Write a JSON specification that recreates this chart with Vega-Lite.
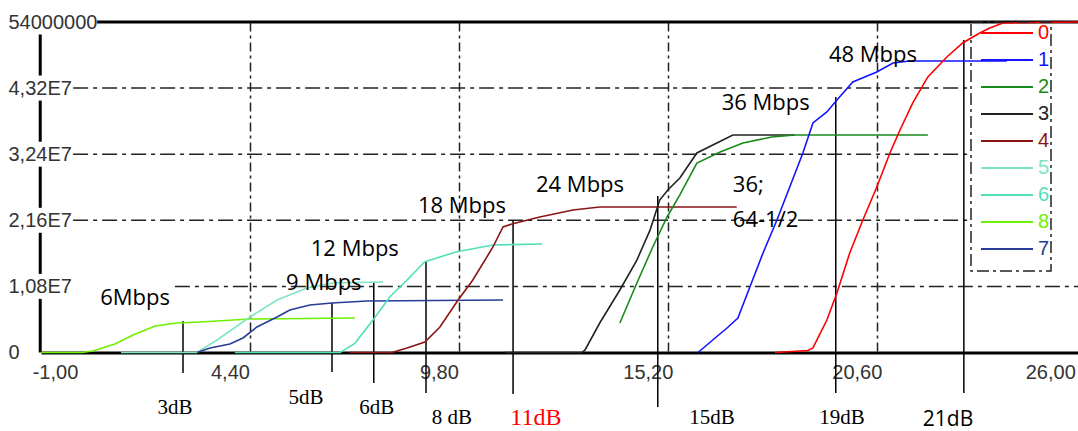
{
  "$schema": "https://vega.github.io/schema/vega-lite/v6.json",
  "width": 1037,
  "height": 330.5,
  "autosize": {"type": "none"},
  "padding": {"left": 41, "top": 22, "right": 0, "bottom": 78.5},
  "background": "white",
  "config": {
    "view": {"stroke": null},
    "legend": {"strokeDash": [12, 4, 3, 4], "strokeWidth": 1.5}
  },
  "datasets": {
    "grid": [
      {"y": 10800000, "x1": 2.46, "x2": 25.8},
      {"y": 21600000, "x1": -0.17, "x2": 23.03},
      {"y": 32400000, "x1": -0.17, "x2": 23.03},
      {"y": 43200000, "x1": -0.17, "x2": 23.03}
    ],
    "leftaxis": [
      {"x": -1.02, "y1": 51960000, "y2": 45250000},
      {"x": -1.02, "y1": 41160000, "y2": 34440000},
      {"x": -1.02, "y1": 30360000, "y2": 23640000},
      {"x": -1.02, "y1": 19560000, "y2": 12840000},
      {"x": -1.02, "y1": 8760000, "y2": 0}
    ],
    "topline": [{"y": 54000000, "x1": 0.45, "x2": 25.8}],
    "marks": [
      {"x": 2.67, "top": 5150000, "bot": -3350000},
      {"x": 6.52, "top": 8090000, "bot": -3190000},
      {"x": 7.60, "top": 11520000, "bot": -4980000},
      {"x": 8.95, "top": 14950000, "bot": -6620000},
      {"x": 11.20, "top": 21650000, "bot": -6780000},
      {"x": 14.94, "top": 25570000, "bot": -8900000},
      {"x": 19.54, "top": 41750000, "bot": -6620000},
      {"x": 22.85, "top": 51060000, "bot": -6620000}
    ],
    "curves": [
      {"s": "8", "x": -1, "y": 0}, {"s": "8", "x": 0.06, "y": 0}, {"s": "8", "x": 0.34, "y": 250000}, {"s": "8", "x": 0.91, "y": 1390000}, {"s": "8", "x": 1.38, "y": 2860000}, {"s": "8", "x": 1.95, "y": 4330000}, {"s": "8", "x": 2.51, "y": 4820000}, {"s": "8", "x": 3.11, "y": 4980000}, {"s": "8", "x": 4.40, "y": 5470000}, {"s": "8", "x": 7.11, "y": 5640000},
      {"s": "5", "x": 1.07, "y": 0}, {"s": "5", "x": 3.03, "y": 0}, {"s": "5", "x": 3.55, "y": 2040000}, {"s": "5", "x": 4.40, "y": 5800000}, {"s": "5", "x": 5.10, "y": 8580000}, {"s": "5", "x": 5.87, "y": 10540000}, {"s": "5", "x": 6.55, "y": 11360000}, {"s": "5", "x": 7.84, "y": 11520000},
      {"s": "7", "x": 3.03, "y": 0}, {"s": "7", "x": 3.37, "y": 740000}, {"s": "7", "x": 3.88, "y": 1390000}, {"s": "7", "x": 4.22, "y": 2370000}, {"s": "7", "x": 4.58, "y": 4170000}, {"s": "7", "x": 5.10, "y": 5800000}, {"s": "7", "x": 5.43, "y": 6940000}, {"s": "7", "x": 5.95, "y": 7760000}, {"s": "7", "x": 6.52, "y": 8090000}, {"s": "7", "x": 7.42, "y": 8420000}, {"s": "7", "x": 10.94, "y": 8580000},
      {"s": "6", "x": 4.01, "y": 0}, {"s": "6", "x": 6.73, "y": 0}, {"s": "6", "x": 6.86, "y": 520000}, {"s": "6", "x": 7.11, "y": 1500000}, {"s": "6", "x": 7.58, "y": 5310000}, {"s": "6", "x": 8.02, "y": 9120000}, {"s": "6", "x": 8.46, "y": 11850000}, {"s": "6", "x": 8.92, "y": 14840000}, {"s": "6", "x": 9.75, "y": 16470000}, {"s": "6", "x": 10.68, "y": 17570000}, {"s": "6", "x": 11.95, "y": 17730000},
      {"s": "4", "x": 6.98, "y": 0}, {"s": "4", "x": 8.07, "y": 0}, {"s": "4", "x": 8.46, "y": 740000}, {"s": "4", "x": 8.92, "y": 1720000}, {"s": "4", "x": 9.31, "y": 4170000}, {"s": "4", "x": 9.78, "y": 8580000}, {"s": "4", "x": 10.16, "y": 11850000}, {"s": "4", "x": 10.68, "y": 17240000}, {"s": "4", "x": 10.94, "y": 20510000}, {"s": "4", "x": 11.17, "y": 21000000}, {"s": "4", "x": 11.89, "y": 22140000}, {"s": "4", "x": 12.75, "y": 23280000}, {"s": "4", "x": 13.44, "y": 23770000}, {"s": "4", "x": 16.98, "y": 23770000},
      {"s": "3", "x": 10.99, "y": 0}, {"s": "3", "x": 12.98, "y": 0}, {"s": "3", "x": 13.06, "y": 410000}, {"s": "3", "x": 13.44, "y": 4820000}, {"s": "3", "x": 13.96, "y": 10210000}, {"s": "3", "x": 14.40, "y": 15110000}, {"s": "3", "x": 14.74, "y": 20000000}, {"s": "3", "x": 14.99, "y": 24900000}, {"s": "3", "x": 15.20, "y": 26550000}, {"s": "3", "x": 15.51, "y": 28510000}, {"s": "3", "x": 15.95, "y": 32600000}, {"s": "3", "x": 16.88, "y": 35540000}, {"s": "3", "x": 18.48, "y": 35540000},
      {"s": "2", "x": 13.96, "y": 4820000}, {"s": "2", "x": 14.40, "y": 11360000}, {"s": "2", "x": 14.81, "y": 17240000}, {"s": "2", "x": 15.18, "y": 22140000}, {"s": "2", "x": 15.51, "y": 25740000}, {"s": "2", "x": 15.95, "y": 30960000}, {"s": "2", "x": 16.55, "y": 32760000}, {"s": "2", "x": 17.14, "y": 34230000}, {"s": "2", "x": 17.89, "y": 35210000}, {"s": "2", "x": 18.48, "y": 35540000}, {"s": "2", "x": 21.92, "y": 35540000},
      {"s": "1", "x": 15.98, "y": 0}, {"s": "1", "x": 16.36, "y": 2040000}, {"s": "1", "x": 16.73, "y": 4000000}, {"s": "1", "x": 17.01, "y": 5640000}, {"s": "1", "x": 17.32, "y": 10700000}, {"s": "1", "x": 17.66, "y": 16260000}, {"s": "1", "x": 18.02, "y": 21650000}, {"s": "1", "x": 18.35, "y": 27040000}, {"s": "1", "x": 18.69, "y": 32600000}, {"s": "1", "x": 18.95, "y": 37500000}, {"s": "1", "x": 19.31, "y": 39300000}, {"s": "1", "x": 19.57, "y": 41260000}, {"s": "1", "x": 19.98, "y": 44200000}, {"s": "1", "x": 20.60, "y": 45830000}, {"s": "1", "x": 21.02, "y": 47300000}, {"s": "1", "x": 21.45, "y": 47630000}, {"s": "1", "x": 23.96, "y": 47630000},
      {"s": "0", "x": 17.97, "y": 0}, {"s": "0", "x": 18.82, "y": 330000}, {"s": "0", "x": 18.95, "y": 740000}, {"s": "0", "x": 19.31, "y": 5310000}, {"s": "0", "x": 19.57, "y": 9720000}, {"s": "0", "x": 19.90, "y": 16260000}, {"s": "0", "x": 20.24, "y": 21650000}, {"s": "0", "x": 20.60, "y": 27040000}, {"s": "0", "x": 20.94, "y": 32600000}, {"s": "0", "x": 21.20, "y": 36360000}, {"s": "0", "x": 21.53, "y": 40770000}, {"s": "0", "x": 21.92, "y": 45020000}, {"s": "0", "x": 22.41, "y": 48280000}, {"s": "0", "x": 22.82, "y": 50570000}, {"s": "0", "x": 23.26, "y": 52200000}, {"s": "0", "x": 23.52, "y": 53020000}, {"s": "0", "x": 23.86, "y": 53840000}, {"s": "0", "x": 25.80, "y": 54000000}
    ],
    "mbps": [
      {"t": "6Mbps", "x": 1.43, "y": 8900000},
      {"t": "9 Mbps", "x": 6.31, "y": 11360000},
      {"t": "12 Mbps", "x": 7.11, "y": 16910000},
      {"t": "18 Mbps", "x": 9.88, "y": 23940000},
      {"t": "24 Mbps", "x": 12.93, "y": 27370000},
      {"t": "36 Mbps", "x": 17.73, "y": 40770000},
      {"t": "48 Mbps", "x": 20.50, "y": 48610000}
    ],
    "mbpsLeft": [
      {"t": "36;", "x": 16.88, "y": 27370000},
      {"t": "64-1/2", "x": 16.88, "y": 21650000}
    ],
    "db": [
      {"t": "3dB", "x": 2.46, "y": -9070000},
      {"t": "5dB", "x": 5.85, "y": -7430000},
      {"t": "6dB", "x": 7.68, "y": -9070000},
      {"t": "8 dB", "x": 9.62, "y": -10700000},
      {"t": "15dB", "x": 16.34, "y": -10700000},
      {"t": "19dB", "x": 19.70, "y": -10700000}
    ],
    "dbRed": [{"t": "11dB", "x": 11.79, "y": -10700000}],
    "dbSans": [{"t": "21dB", "x": 22.44, "y": -11030000}]
  },
  "layer": [
    {
      "data": {"name": "grid"},
      "mark": {"type": "rule", "color": "#222", "strokeWidth": 1.5, "strokeDash": [15, 5, 4, 5]},
      "encoding": {
        "x": {
          "field": "x1", "type": "quantitative",
          "scale": {"domain": [-1, 25.8], "nice": false, "zero": false},
          "axis": {
            "values": [-1, 4.4, 9.8, 15.2, 20.6, 25.6],
            "labelExpr": "datum.value < 0 ? '-1,00' : datum.value > 25 ? '26,00' : replace(format(datum.value, '.2f'), '.', ',')",
            "grid": true, "gridDash": [9, 4, 3, 4], "gridColor": "#222", "gridWidth": 1.5,
            "gridOpacity": {"condition": {"test": "datum.value < 0 || datum.value > 25", "value": 0}, "value": 1},
            "ticks": false, "tickSize": 0,
            "domainColor": "black", "domainWidth": 3,
            "labelAlign": "center", "labelBaseline": "top", "labelPadding": 10,
            "labelOffset": {"condition": {"test": "datum.value < 0", "value": 14}, "value": -20},
            "labelFont": "Liberation Sans", "labelFontSize": 20, "labelColor": "#333",
            "labelFlush": false, "labelOverlap": false, "labelBound": false,
            "title": null
          }
        },
        "x2": {"field": "x2"},
        "y": {
          "field": "y", "type": "quantitative",
          "scale": {"domain": [0, 54000000], "nice": false, "zero": false},
          "axis": {
            "values": [0, 10800000, 21600000, 32400000, 43200000, 54000000],
            "labelExpr": "datum.value == 0 ? '0' : datum.value >= 54000000 ? '54000000' : replace(format(datum.value / 10000000, '.2f'), '.', ',') + 'E7'",
            "grid": false, "ticks": false, "tickSize": 0, "domain": false,
            "labelAlign": "left", "labelBaseline": "middle", "labelPadding": 33,
            "labelFont": "Liberation Sans", "labelFontSize": 20, "labelColor": "#333",
            "labelFlush": false, "labelOverlap": false, "labelBound": false,
            "title": null
          }
        }
      }
    },
    {
      "data": {"name": "leftaxis"},
      "mark": {"type": "rule", "color": "black", "strokeWidth": 3},
      "encoding": {
        "x": {"field": "x", "type": "quantitative"},
        "y": {"field": "y1", "type": "quantitative"},
        "y2": {"field": "y2"}
      }
    },
    {
      "data": {"name": "topline"},
      "mark": {"type": "rule", "color": "black", "strokeWidth": 3},
      "encoding": {
        "x": {"field": "x1", "type": "quantitative"},
        "x2": {"field": "x2"},
        "y": {"field": "y", "type": "quantitative"}
      }
    },
    {
      "data": {"name": "marks"},
      "mark": {"type": "rule", "color": "black", "strokeWidth": 1.5},
      "encoding": {
        "x": {"field": "x", "type": "quantitative"},
        "y": {"field": "top", "type": "quantitative"},
        "y2": {"field": "bot"}
      }
    },
    {
      "data": {"name": "curves"},
      "mark": {"type": "line", "strokeWidth": 1.6},
      "encoding": {
        "x": {"field": "x", "type": "quantitative"},
        "y": {"field": "y", "type": "quantitative"},
        "color": {
          "field": "s", "type": "nominal",
          "scale": {
            "domain": ["0", "1", "2", "3", "4", "5", "6", "8", "7"],
            "range": ["#ff0000", "#1414ff", "#1a8a1a", "#222222", "#8b1414", "#80e6c2", "#52dfb8", "#6ef000", "#283c96"]
          },
          "legend": {
            "orient": "none", "legendX": 930, "legendY": 0, "direction": "vertical",
            "title": "                                                       ",
            "titleOrient": "bottom", "titleFontSize": 12, "titlePadding": 0,
            "symbolType": "stroke", "symbolSize": 2704, "symbolStrokeWidth": 2,
            "clipHeight": 20, "rowPadding": 7, "padding": 1,
            "symbolOffset": 8, "labelOffset": 4,
            "labelFont": "Liberation Sans", "labelFontSize": 20,
            "strokeColor": "#222",
            "encode": {"labels": {"update": {"fill": {"scale": "color", "field": "value"}}}}
          }
        }
      }
    },
    {
      "data": {"name": "mbps"},
      "mark": {"type": "text", "font": "Open Sans", "fontSize": 22, "color": "black", "align": "center", "baseline": "middle"},
      "encoding": {
        "x": {"field": "x", "type": "quantitative"},
        "y": {"field": "y", "type": "quantitative"},
        "text": {"field": "t"}
      }
    },
    {
      "data": {"name": "mbpsLeft"},
      "mark": {"type": "text", "font": "Open Sans", "fontSize": 22, "color": "black", "align": "left", "baseline": "middle"},
      "encoding": {
        "x": {"field": "x", "type": "quantitative"},
        "y": {"field": "y", "type": "quantitative"},
        "text": {"field": "t"}
      }
    },
    {
      "data": {"name": "db"},
      "mark": {"type": "text", "font": "Liberation Serif", "fontSize": 21, "color": "black", "align": "center", "baseline": "middle"},
      "encoding": {
        "x": {"field": "x", "type": "quantitative"},
        "y": {"field": "y", "type": "quantitative"},
        "text": {"field": "t"}
      }
    },
    {
      "data": {"name": "dbRed"},
      "mark": {"type": "text", "font": "Liberation Serif", "fontSize": 24, "color": "#ff0000", "align": "center", "baseline": "middle"},
      "encoding": {
        "x": {"field": "x", "type": "quantitative"},
        "y": {"field": "y", "type": "quantitative"},
        "text": {"field": "t"}
      }
    },
    {
      "data": {"name": "dbSans"},
      "mark": {"type": "text", "font": "Open Sans", "fontSize": 21, "color": "black", "align": "center", "baseline": "middle"},
      "encoding": {
        "x": {"field": "x", "type": "quantitative"},
        "y": {"field": "y", "type": "quantitative"},
        "text": {"field": "t"}
      }
    }
  ]
}
